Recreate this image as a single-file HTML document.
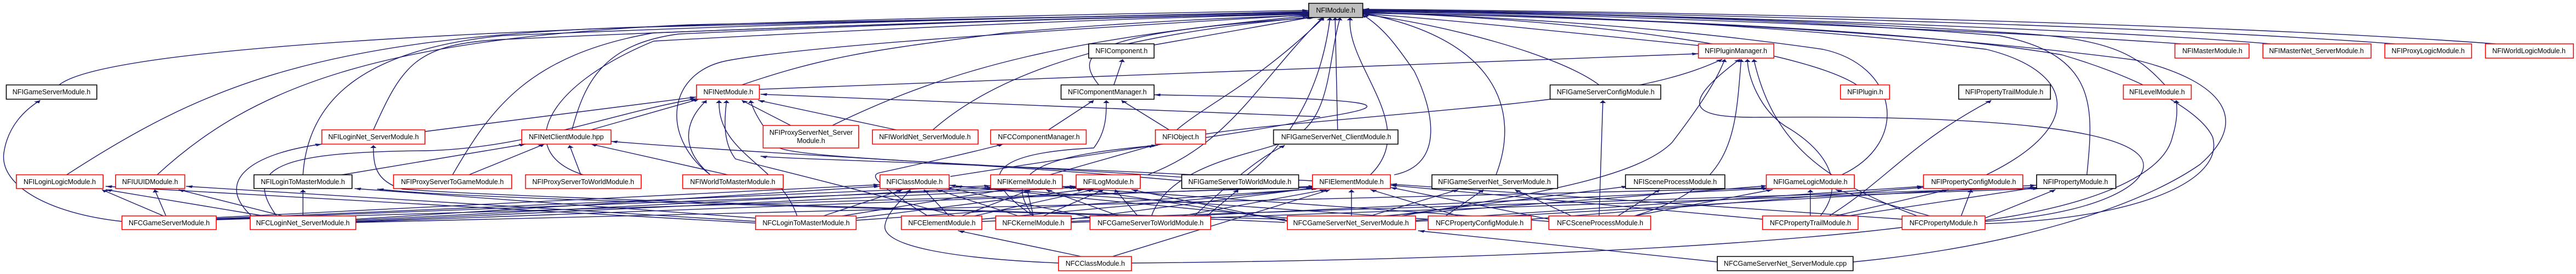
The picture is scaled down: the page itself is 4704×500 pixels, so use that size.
<!DOCTYPE html>
<html><head><meta charset="utf-8"><style>
html,body{margin:0;padding:0;background:#fff;}
svg{display:block;}
.e{fill:none;stroke:#191970;stroke-width:1.4;vector-effect:non-scaling-stroke;marker-end:url(#a);}
.n{fill:none;stroke:#191970;stroke-width:1.4;vector-effect:non-scaling-stroke;}
.r{fill:#fff;stroke:#ff0000;stroke-width:1.6;vector-effect:non-scaling-stroke;}
.k{fill:#fff;stroke:#000;stroke-width:1.6;vector-effect:non-scaling-stroke;}
text{font-family:"Liberation Sans",Arial,sans-serif;font-size:12.5px;fill:#000;text-anchor:middle;}
</style></head><body>
<svg width="4704" height="500" viewBox="0 0 4704 500" xmlns="http://www.w3.org/2000/svg">
<defs><marker id="a" markerUnits="userSpaceOnUse" viewBox="0 0 10 10" refX="10" refY="5" markerWidth="7" markerHeight="5" orient="auto"><path d="M0,0 L10,5 L0,10 z" fill="#191970"/></marker></defs>
<g transform="scale(2.2957,1)">
<path class="e" d="M47,155 C90,75 500,40 1041,19"/>
<path class="e" d="M53,319 C160,160 250,70 500,50 C800,30 950,24 1041,21"/>
<path class="e" d="M125,319 C200,160 300,70 550,45 C800,30 950,25 1041,22"/>
<path class="e" d="M241,319 C245,180 290,90 400,65 C700,35 950,27 1041,23"/>
<path class="e" d="M297,237 C320,120 330,80 400,72 C700,40 950,30 1041,24"/>
<path class="e" d="M360,319 C390,200 420,100 520,60 C800,35 950,28 1041,25"/>
<path class="e" d="M464,319 C410,280 430,160 520,75 C800,40 950,30 1041,26"/>
<path class="e" d="M455,237 C465,150 480,80 540,62 C800,35 950,28 1041,26"/>
<path class="e" d="M590,155 C660,100 700,90 800,60 C900,40 980,32 1041,28"/>
<path class="e" d="M662,229 C760,120 850,70 1041,29"/>
<path class="e" d="M742,237 C800,120 900,60 1045,31"/>
<path class="e" d="M918,82 L1044,31"/>
<path class="e" d="M874,155 C855,100 860,60 1046,32"/>
<path class="e" d="M565,319 C525,250 530,130 580,110 C640,85 800,60 1041,27"/>
<path class="e" d="M913,319 C980,260 1000,150 1052,32"/>
<path class="e" d="M936,237 C960,190 1000,150 1053,32"/>
<path class="e" d="M1064,237 L1062,32"/>
<path class="e" d="M1090,319 C1130,230 1070,120 1074,32"/>
<path class="e" d="M992,319 C1020,270 1050,180 1058,32"/>
<path class="e" d="M916,394 C930,300 1000,280 1020,260 C1060,230 1055,120 1066,32"/>
<path class="e" d="M1351,83 C1250,60 1150,35 1084,25"/>
<path class="e" d="M1272,155 C1240,100 1150,45 1084,26"/>
<path class="e" d="M1190,319 C1210,200 1190,70 1084,24"/>
<path class="e" d="M1109,319 C1150,300 1140,200 1125,130 C1110,80 1100,50 1084,27"/>
<path class="e" d="M1477,155 C1440,100 1300,40 1084,22"/>
<path class="e" d="M1465,319 C1520,260 1510,120 1450,90 C1300,40 1150,28 1084,22"/>
<path class="e" d="M1580,319 C1660,230 1650,130 1580,90 C1400,40 1200,25 1084,21"/>
<path class="e" d="M1660,319 C1665,200 1670,100 1590,65 C1400,30 1200,22 1084,21"/>
<path class="e" d="M1722,155 C1700,100 1680,70 1600,60 C1400,30 1200,22 1084,20"/>
<path class="e" d="M1735,80 C1600,58 1300,28 1084,19"/>
<path class="e" d="M1806,80 C1650,50 1300,25 1084,18"/>
<path class="e" d="M1905,80 C1700,45 1300,22 1084,18"/>
<path class="e" d="M1985,80 C1750,40 1300,20 1084,17"/>
<path class="e" d="M1579,408 C1700,400 1770,330 1760,250 C1750,200 1700,140 1640,100 C1500,45 1200,28 1084,23"/>
<path class="e" d="M1474,478 C1600,450 1700,380 1750,300 C1790,220 1770,150 1700,110 C1500,50 1250,30 1084,24"/>
<path class="e" d="M338,240 L554,177"/>
<path class="e" d="M470,237 L556,181"/>
<path class="e" d="M629,229 L590,183"/>
<path class="e" d="M713,237 L603,183"/>
<path class="e" d="M565,319 C540,270 545,220 562,183"/>
<path class="e" d="M634,394 C620,300 570,280 572,183"/>
<path class="e" d="M220,394 C190,300 230,277 340,275 C420,270 480,210 554,180"/>
<path class="e" d="M760,394 C640,320 600,300 585,290 C575,260 576,220 578,183"/>
<path class="e" d="M944,324 C800,300 640,290 620,270 C610,240 600,210 597,183"/>
<path class="e" d="M1050,213 C900,200 700,180 605,172"/>
<path class="e" d="M604,163 L1351,98"/>
<path class="e" d="M886,155 L893,108"/>
<path class="e" d="M834,237 L870,183"/>
<path class="e" d="M930,237 L892,183"/>
<path class="e" d="M756,322 C900,270 1000,240 1050,215 C1120,190 1100,180 918,173"/>
<path class="e" d="M822,394 C780,330 780,280 870,270 C880,240 880,210 880,183"/>
<path class="e" d="M822,394 C790,300 850,280 921,265"/>
<path class="e" d="M835,319 L918,265"/>
<path class="e" d="M738,394 C700,340 690,320 700,315 C730,300 770,280 798,263"/>
<path class="e" d="M958,245 C1000,230 1040,225 1200,190 C1300,165 1340,140 1370,108"/>
<path class="e" d="M272,319 L418,263"/>
<path class="e" d="M373,319 L433,263"/>
<path class="e" d="M462,319 L453,265"/>
<path class="e" d="M579,319 L470,263"/>
<path class="e" d="M940,330 C800,300 600,280 486,258"/>
<path class="e" d="M200,394 C170,330 200,280 256,263"/>
<path class="e" d="M1022,400 C700,380 400,360 320,345 C298,330 297,300 297,265"/>
<path class="e" d="M97,404 C40,390 0,340 3,280 C6,230 20,200 32,183"/>
<path class="e" d="M130,394 L81,346"/>
<path class="e" d="M132,394 L123,346"/>
<path class="e" d="M172,397 L700,337"/>
<path class="e" d="M172,399 L788,339"/>
<path class="e" d="M172,400 L856,340"/>
<path class="e" d="M172,401 L1044,342"/>
<path class="e" d="M241,394 L241,346"/>
<path class="e" d="M225,394 L142,346"/>
<path class="e" d="M210,394 L84,346"/>
<path class="e" d="M283,400 L700,340"/>
<path class="e" d="M283,402 L790,342"/>
<path class="e" d="M283,404 L858,342"/>
<path class="e" d="M283,405 L1046,340"/>
<path class="e" d="M283,406 L1406,343"/>
<path class="e" d="M601,398 L282,344"/>
<path class="e" d="M601,404 L148,340"/>
<path class="e" d="M601,407 L84,340"/>
<path class="e" d="M655,394 L718,346"/>
<path class="e" d="M670,394 L800,346"/>
<path class="e" d="M681,398 L862,346"/>
<path class="e" d="M681,402 L1048,344"/>
<path class="e" d="M755,394 L735,346"/>
<path class="e" d="M765,394 L820,346"/>
<path class="e" d="M775,394 L870,346"/>
<path class="e" d="M781,400 L1050,343"/>
<path class="e" d="M781,404 L1620,342"/>
<path class="e" d="M822,394 L817,346"/>
<path class="e" d="M810,394 L745,346"/>
<path class="e" d="M830,394 L878,346"/>
<path class="e" d="M852,400 L1048,342"/>
<path class="e" d="M852,404 L1407,344"/>
<path class="e" d="M852,406 L1622,344"/>
<path class="e" d="M960,394 L985,346"/>
<path class="e" d="M905,394 L887,346"/>
<path class="e" d="M890,394 L832,346"/>
<path class="e" d="M870,398 L752,342"/>
<path class="e" d="M940,394 L1055,346"/>
<path class="e" d="M950,394 C980,330 1000,290 1022,265"/>
<path class="e" d="M1075,394 L1075,346"/>
<path class="e" d="M1090,394 L1160,346"/>
<path class="e" d="M1024,398 L755,338"/>
<path class="e" d="M1024,402 L845,340"/>
<path class="e" d="M1024,404 L900,346"/>
<path class="e" d="M1100,394 L1406,339"/>
<path class="e" d="M1105,394 L1295,340"/>
<path class="e" d="M1115,394 C1200,360 1300,330 1330,260 C1350,200 1365,150 1372,108"/>
<path class="e" d="M1126,404 L1620,338"/>
<path class="e" d="M1126,402 L1530,340"/>
<path class="e" d="M1160,394 L1090,346"/>
<path class="e" d="M1136,400 L760,340"/>
<path class="e" d="M1218,400 L1530,342"/>
<path class="e" d="M1150,394 L1180,346"/>
<path class="e" d="M1272,394 L1275,183"/>
<path class="e" d="M1287,394 L1320,346"/>
<path class="e" d="M1250,394 L1205,346"/>
<path class="e" d="M1232,400 L1106,342"/>
<path class="e" d="M1232,404 L848,342"/>
<path class="e" d="M1300,394 L1410,346"/>
<path class="e" d="M1300,394 C1380,340 1380,250 1385,108"/>
<path class="e" d="M1440,394 L1440,346"/>
<path class="e" d="M1455,394 C1500,330 1520,260 1584,183"/>
<path class="e" d="M1460,394 L1550,346"/>
<path class="e" d="M1470,394 L1620,342"/>
<path class="e" d="M1448,394 C1470,330 1450,270 1420,230 C1400,200 1390,140 1390,108"/>
<path class="e" d="M1402,400 L1106,338"/>
<path class="e" d="M1560,394 L1568,346"/>
<path class="e" d="M1579,398 L1635,346"/>
<path class="e" d="M1535,394 L1460,346"/>
<path class="e" d="M1525,394 C1450,330 1410,260 1395,108"/>
<path class="e" d="M1513,400 L1106,336"/>
<path class="e" d="M1579,402 C1650,380 1720,330 1728,250 C1732,220 1732,200 1731,183"/>
<path class="e" d="M1579,404 C1680,390 1720,320 1700,280 C1680,240 1600,210 1400,214 C1350,215 1330,200 1384,108"/>
<path class="e" d="M860,468 L762,421"/>
<path class="e" d="M842,480 C760,472 700,450 704,410 C706,385 718,365 724,346"/>
<path class="e" d="M885,468 L1058,346"/>
<path class="n" d="M900,480 C1100,476 1350,460 1513,415"/>
<path class="e" d="M1366,478 L1128,421"/>
<path class="e" d="M1022,406 C800,380 400,370 300,345"/>
<path class="e" d="M1044,330 C800,300 620,290 605,285"/>
<rect x="1041" y="6" width="43" height="26" fill="#bfbfbf" stroke="#000" stroke-width="1.6" vector-effect="non-scaling-stroke"/>
<rect class="k" x="866" y="80" width="52" height="26"/>
<rect class="r" x="1351" y="80" width="60" height="26"/>
<rect class="r" x="1730" y="80" width="59" height="26"/>
<rect class="r" x="1800" y="80" width="86" height="26"/>
<rect class="r" x="1897" y="80" width="69" height="26"/>
<rect class="r" x="1977" y="80" width="70" height="26"/>
<rect class="k" x="5" y="155" width="72" height="26"/>
<rect class="r" x="554" y="155" width="50" height="26"/>
<rect class="k" x="844" y="155" width="74" height="26"/>
<rect class="k" x="1233" y="155" width="88" height="26"/>
<rect class="r" x="1464" y="155" width="39" height="26"/>
<rect class="k" x="1558" y="155" width="73" height="26"/>
<rect class="r" x="1689" y="155" width="54" height="26"/>
<rect class="r" x="256" y="237" width="82" height="26"/>
<rect class="r" x="415" y="237" width="71" height="26"/>
<rect class="r" x="607" y="229" width="76" height="41"/>
<rect class="r" x="694" y="237" width="84" height="26"/>
<rect class="r" x="788" y="237" width="76" height="26"/>
<rect class="r" x="919" y="237" width="40" height="26"/>
<rect class="k" x="1013" y="237" width="99" height="26"/>
<rect class="r" x="13" y="319" width="69" height="25"/>
<rect class="r" x="92" y="319" width="55" height="25"/>
<rect class="k" x="202" y="319" width="78" height="25"/>
<rect class="r" x="313" y="319" width="94" height="25"/>
<rect class="r" x="418" y="319" width="92" height="25"/>
<rect class="r" x="543" y="319" width="80" height="25"/>
<rect class="r" x="700" y="319" width="55" height="25"/>
<rect class="r" x="788" y="319" width="57" height="25"/>
<rect class="r" x="856" y="319" width="51" height="25"/>
<rect class="k" x="940" y="319" width="93" height="25"/>
<rect class="r" x="1044" y="319" width="62" height="25"/>
<rect class="k" x="1139" y="319" width="100" height="25"/>
<rect class="k" x="1293" y="319" width="79" height="25"/>
<rect class="r" x="1405" y="319" width="70" height="25"/>
<rect class="r" x="1530" y="319" width="79" height="25"/>
<rect class="k" x="1620" y="319" width="63" height="25"/>
<rect class="r" x="97" y="394" width="75" height="25"/>
<rect class="r" x="199" y="394" width="84" height="25"/>
<rect class="r" x="601" y="394" width="80" height="25"/>
<rect class="r" x="717" y="394" width="64" height="25"/>
<rect class="r" x="792" y="394" width="60" height="25"/>
<rect class="r" x="867" y="394" width="96" height="25"/>
<rect class="r" x="1024" y="394" width="102" height="25"/>
<rect class="r" x="1136" y="394" width="82" height="25"/>
<rect class="r" x="1232" y="394" width="81" height="25"/>
<rect class="r" x="1402" y="394" width="76" height="25"/>
<rect class="r" x="1513" y="394" width="66" height="25"/>
<rect class="r" x="842" y="468" width="58" height="26"/>
<rect class="k" x="1366" y="468" width="108" height="26"/>
</g>
<g>
<text x="2439" y="23">NFIModule.h</text>
<text x="2048" y="97">NFIComponent.h</text>
<text x="3170" y="97">NFIPluginManager.h</text>
<text x="4040" y="97">NFIMasterModule.h</text>
<text x="4230" y="97">NFIMasterNet_ServerModule.h</text>
<text x="4434" y="97">NFIProxyLogicModule.h</text>
<text x="4618" y="97">NFIWorldLogicModule.h</text>
<text x="94" y="172">NFIGameServerModule.h</text>
<text x="1330" y="172">NFINetModule.h</text>
<text x="2022" y="172">NFIComponentManager.h</text>
<text x="2932" y="172">NFIGameServerConfigModule.h</text>
<text x="3406" y="172">NFIPlugin.h</text>
<text x="3660" y="172">NFIPropertyTrailModule.h</text>
<text x="3939" y="172">NFILevelModule.h</text>
<text x="682" y="254">NFILoginNet_ServerModule.h</text>
<text x="1034" y="254">NFINetClientModule.hpp</text>
<text x="1481" y="246">NFIProxyServerNet_Server</text>
<text x="1481" y="261">Module.h</text>
<text x="1689" y="254">NFIWorldNet_ServerModule.h</text>
<text x="1897" y="254">NFCComponentManager.h</text>
<text x="2156" y="254">NFIObject.h</text>
<text x="2440" y="254">NFIGameServerNet_ClientModule.h</text>
<text x="109" y="336">NFILoginLogicModule.h</text>
<text x="274" y="336">NFIUUIDModule.h</text>
<text x="553" y="336">NFILoginToMasterModule.h</text>
<text x="826" y="336">NFIProxyServerToGameModule.h</text>
<text x="1065" y="336">NFIProxyServerToWorldModule.h</text>
<text x="1338" y="336">NFIWorldToMasterModule.h</text>
<text x="1670" y="336">NFIClassModule.h</text>
<text x="1875" y="336">NFIKernelModule.h</text>
<text x="2024" y="336">NFILogModule.h</text>
<text x="2264" y="336">NFIGameServerToWorldModule.h</text>
<text x="2468" y="336">NFIElementModule.h</text>
<text x="2729" y="336">NFIGameServerNet_ServerModule.h</text>
<text x="3059" y="336">NFISceneProcessModule.h</text>
<text x="3306" y="336">NFIGameLogicModule.h</text>
<text x="3604" y="336">NFIPropertyConfigModule.h</text>
<text x="3790" y="336">NFIPropertyModule.h</text>
<text x="309" y="411">NFCGameServerModule.h</text>
<text x="553" y="411">NFCLoginNet_ServerModule.h</text>
<text x="1472" y="411">NFCLoginToMasterModule.h</text>
<text x="1720" y="411">NFCElementModule.h</text>
<text x="1887" y="411">NFCKernelModule.h</text>
<text x="2101" y="411">NFCGameServerToWorldModule.h</text>
<text x="2467" y="411">NFCGameServerNet_ServerModule.h</text>
<text x="2702" y="411">NFCPropertyConfigModule.h</text>
<text x="2922" y="411">NFCSceneProcessModule.h</text>
<text x="3306" y="411">NFCPropertyTrailModule.h</text>
<text x="3549" y="411">NFCPropertyModule.h</text>
<text x="2000" y="485">NFCClassModule.h</text>
<text x="3260" y="485">NFCGameServerNet_ServerModule.cpp</text>
</g>
</svg>
</body></html>
